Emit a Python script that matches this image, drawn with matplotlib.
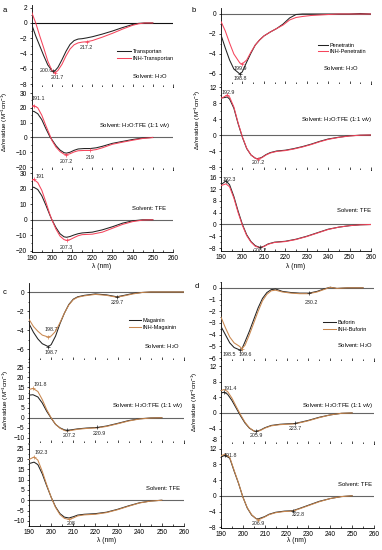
import matplotlib
matplotlib.use('Agg')
import matplotlib.pyplot as plt
from matplotlib.ticker import MultipleLocator

plt.rcParams['font.family'] = ['Liberation Sans', 'DejaVu Sans']
plt.rcParams['mathtext.fontset'] = 'custom'
plt.rcParams['mathtext.rm'] = 'Liberation Sans'
plt.rcParams['mathtext.it'] = 'Liberation Sans:italic'

# ---- data ----
# a: Transportan
wl_a1 = [190, 192, 194, 196, 198, 200, 200.6, 201.7, 203, 205, 207, 209, 211, 213, 215, 217.2, 220, 225, 230, 235, 240, 243, 246, 250]
a1_pep = [-0.2, -1.7, -3.0, -4.3, -5.5, -6.2, -6.3, -6.2, -5.8, -4.8, -3.7, -2.8, -2.3, -2.1, -2.05, -1.95, -1.8, -1.45, -1.05, -0.6, -0.2, -0.05, 0, 0]
a1_inh = [1.4, 0.0, -1.7, -3.3, -5.0, -6.2, -6.4, -6.5, -6.2, -5.4, -4.3, -3.4, -2.85, -2.6, -2.5, -2.45, -2.3, -1.85, -1.35, -0.8, -0.3, -0.1, 0, 0]

wl_a2 = [190, 191.1, 193, 195, 197, 199, 200, 202, 204, 206, 207.2, 209, 211, 213, 216, 219, 222, 225, 230, 235, 240, 245, 250]
a2_pep = [17.6, 17.6, 16.0, 12.0, 6.0, 0.5, -1.5, -5.5, -8.5, -10.3, -10.6, -10.0, -8.7, -7.8, -7.5, -7.5, -7.0, -6.0, -4.0, -2.7, -1.4, -0.4, 0]
a2_inh = [21.0, 21.5, 20.0, 15.0, 8.0, 1.5, -2.0, -6.5, -9.5, -11.3, -11.6, -11.0, -9.8, -9.0, -8.8, -8.8, -8.2, -7.0, -4.6, -3.2, -1.9, -0.7, -0.1]

wl_a3 = [190, 191, 193, 195, 197, 199, 200, 202, 204, 206, 207.3, 209, 211, 213, 215, 220, 225, 230, 235, 240, 245, 250]
a3_pep = [20.5, 21.0, 19.5, 15.5, 9.5, 3.0, 0, -5, -9, -11, -11.3, -10.8, -9.8, -9.0, -8.5, -8.0, -6.5, -4.5, -2.2, -0.7, 0, 0]
a3_inh = [25.4, 26.0, 24.0, 19.0, 11.5, 3.5, 0, -6, -10.5, -12.8, -13.3, -12.8, -11.5, -10.3, -9.6, -9.3, -8.0, -5.5, -3.0, -1.2, -0.2, 0]

# b: Penetratin
wl_b1 = [190, 192, 194, 196, 198.8, 199.9, 202, 204, 206, 208, 210, 213, 216, 219, 222, 225, 228, 232, 236, 240, 245, 250, 255, 260]
b1_pep = [-2.1, -3.4, -4.6, -5.5, -6.0, -5.8, -4.8, -3.9, -3.1, -2.6, -2.2, -1.8, -1.45, -1.0, -0.4, -0.05, 0, 0, 0, 0, 0, 0, 0.05, 0]
b1_inh = [-0.75, -1.7, -2.9, -4.0, -4.9, -5.0, -4.6, -3.8, -3.1, -2.6, -2.2, -1.8, -1.45, -1.1, -0.6, -0.35, -0.25, -0.15, -0.1, -0.05, 0, 0, 0, 0]

wl_b2 = [190, 191, 192.9, 194, 196, 198, 200, 202, 204, 206, 207.2, 209, 211, 213, 216, 220, 224, 228, 232, 236, 240, 245, 250, 255, 260]
b2_pep = [9.3, 9.3, 9.5, 9.0, 6.7, 2.8, -0.6, -3.4, -5.0, -5.8, -5.95, -5.6, -4.9, -4.4, -4.0, -3.8, -3.4, -2.9, -2.3, -1.6, -1.0, -0.55, -0.2, -0.05, 0]
b2_inh = [9.2, 9.4, 10.0, 9.5, 7.0, 3.0, -0.5, -3.3, -5.0, -5.8, -6.0, -5.7, -5.0, -4.5, -4.1, -3.9, -3.5, -3.0, -2.4, -1.7, -1.1, -0.6, -0.25, -0.05, 0]

wl_b3 = [190, 192.3, 194, 196, 198, 200, 202, 204, 206, 208.2, 210, 212, 215, 220, 225, 230, 235, 240, 245, 250, 255, 260]
b3_pep = [13.5, 14.8, 13.5, 9.5, 4.5, 0, -3.5, -5.8, -7.2, -7.8, -7.4, -6.6, -6.0, -5.7, -5.0, -4.0, -2.8, -1.6, -0.9, -0.4, -0.1, 0]
b3_inh = [13.2, 13.8, 12.8, 9.0, 4.0, -0.3, -3.8, -6.0, -7.4, -7.9, -7.5, -6.7, -6.1, -5.8, -5.1, -4.1, -2.9, -1.7, -0.9, -0.4, -0.1, 0]

# c: Magainin
wl_c1 = [190, 192, 194, 196, 198.7, 200, 202, 204, 206, 208, 210, 212, 215, 220, 225, 229.7, 233, 237, 241, 245, 250, 255, 260]
c1_pep = [-3.3, -4.2, -4.9, -5.4, -5.7, -5.5, -4.6, -3.3, -2.2, -1.3, -0.75, -0.5, -0.35, -0.2, -0.3, -0.5, -0.35, -0.15, -0.05, 0, 0, 0, 0]
c1_inh = [-2.85, -3.6, -4.1, -4.5, -4.7, -4.6, -4.1, -3.2, -2.2, -1.35, -0.8, -0.55, -0.4, -0.25, -0.35, -0.55, -0.4, -0.2, -0.05, 0, 0, 0, 0]

wl_c2 = [190, 191.8, 194, 196, 198, 200, 202, 204, 206, 207.2, 209, 212, 216, 220.9, 225, 230, 235, 240, 245, 250]
c2_pep = [11.2, 11.4, 10.3, 7.3, 3.2, -0.2, -3.3, -5.0, -6.0, -6.2, -6.0, -5.5, -5.1, -4.8, -4.1, -2.8, -1.4, -0.5, -0.1, 0]
c2_inh = [14.0, 14.5, 13.0, 9.0, 4.0, 0, -3.2, -5.2, -6.3, -6.6, -6.3, -5.7, -5.3, -5.0, -4.3, -3.0, -1.6, -0.6, -0.15, 0]

wl_c3 = [190, 192.3, 194, 196, 198, 200, 202, 204, 206, 208, 210, 212, 215, 220, 225, 230, 235, 240, 245, 250]
c3_pep = [17.8, 18.5, 17.3, 12.8, 7.0, 1.5, -3.2, -6.5, -8.2, -8.6, -8.0, -7.2, -6.8, -6.5, -5.8, -4.4, -2.7, -1.2, -0.35, 0]
c3_inh = [19.8, 21.0, 19.5, 14.0, 7.5, 1.5, -3.5, -7.0, -8.8, -9.3, -8.6, -7.6, -7.1, -6.8, -6.0, -4.6, -2.9, -1.3, -0.4, 0]

# d: Buforin
wl_d1 = [190, 192, 194, 196, 198.5, 199.6, 201, 203, 205, 207, 209, 211, 213, 215, 218, 222, 226, 230.2, 234, 237, 240, 243, 248, 255]
d1_pep = [-3.3, -4.0, -4.7, -5.1, -5.3, -5.2, -4.6, -3.7, -2.7, -1.7, -0.9, -0.4, -0.15, -0.1, -0.3, -0.4, -0.45, -0.45, -0.3, -0.1, 0.05, -0.05, 0, 0]
d1_inh = [-2.5, -3.4, -4.2, -4.7, -5.0, -5.2, -4.9, -4.0, -3.0, -2.0, -1.1, -0.55, -0.25, -0.2, -0.35, -0.45, -0.5, -0.5, -0.35, -0.15, 0.05, -0.05, 0, 0]

wl_d2 = [190, 191.4, 193, 195, 197, 199, 201, 203, 205, 205.9, 208, 210, 213, 217, 220, 223.7, 227, 230, 235, 240, 245, 250]
d2_pep = [5.1, 5.3, 4.8, 3.2, 1.2, -0.8, -2.6, -3.9, -4.6, -4.7, -4.4, -3.8, -3.2, -2.9, -2.8, -2.7, -2.3, -1.9, -1.1, -0.5, -0.1, 0]
d2_inh = [5.7, 6.0, 5.5, 3.8, 1.6, -0.5, -2.4, -3.8, -4.6, -4.8, -4.5, -3.9, -3.3, -3.0, -2.9, -2.8, -2.4, -2.0, -1.2, -0.5, -0.1, 0]

wl_d3 = [190, 191.8, 194, 196, 198, 200, 202, 204, 206, 206.9, 208, 210, 212, 215, 219, 222.8, 226, 230, 235, 240, 245, 250]
d3_pep = [9.9, 10.3, 9.6, 6.3, 3.2, -0.3, -3.1, -4.9, -5.8, -5.9, -5.7, -5.3, -4.7, -4.2, -3.9, -3.8, -3.2, -2.4, -1.4, -0.7, -0.2, 0]
d3_inh = [10.2, 10.6, 9.8, 6.5, 3.3, -0.3, -3.0, -4.8, -5.8, -6.1, -5.9, -5.4, -4.8, -4.3, -4.0, -3.9, -3.3, -2.5, -1.5, -0.7, -0.2, 0]

W, H = 382, 550
BLACK = '#222222'
RED = '#f5455c'
TAN = '#c8874f'

fig = plt.figure(figsize=(W / 100, H / 100), dpi=100)


def add_ax(l, r, t, b):
    return fig.add_axes([l / W, 1 - b / H, (r - l) / W, (b - t) / H])


def ftext(x, y, s, **kw):
    kw.setdefault('fontsize', 4.2)
    fig.text(x / W, 1 - y / H, s, **kw)


def cd_axes(l, r, t, b, ylim, ystep, bottom=False, zero_col='#666666'):
    ax = add_ax(l, r, t, b)
    ax.set_xlim(190, 260)
    ax.set_ylim(*ylim)
    for s in ['top', 'right']:
        ax.spines[s].set_visible(False)
    for s in ['left', 'bottom']:
        ax.spines[s].set_linewidth(0.6)
    ax.axhline(0, color=zero_col, lw=0.8, zorder=1)
    ax.xaxis.set_major_locator(MultipleLocator(10))
    ax.xaxis.set_minor_locator(MultipleLocator(5))
    ax.yaxis.set_major_locator(MultipleLocator(ystep))
    ax.yaxis.set_minor_locator(MultipleLocator(ystep / 2))
    ax.tick_params(axis='x', which='major', direction='in', length=2.2, width=0.5,
                   labelsize=4.8, pad=2)
    ax.tick_params(axis='x', which='minor', direction='in', length=1.2, width=0.5)
    ax.tick_params(axis='y', which='major', direction='out', length=1.8, width=0.5,
                   labelsize=4.8, pad=1.5)
    ax.tick_params(axis='y', which='minor', direction='out', length=1.0, width=0.5)
    if not bottom:
        ax.tick_params(axis='x', which='both', labelbottom=False)
    return ax


def curves(ax, wl, pep, inh, c_inh):
    l1, = ax.plot(wl, pep, color=BLACK, lw=0.75, zorder=3)
    l2, = ax.plot(wl, inh, color=c_inh, lw=0.75, zorder=4)
    return l1, l2


def mark(ax, wl, ys, x, label, dx, dy, color=BLACK):
    y = ys[wl.index(x)]
    ax.plot([x], [y], marker='+', ms=3, mew=0.5, color=color, zorder=5)
    ax.annotate(label, (x, y), xytext=(dx, -dy), textcoords='offset pixels',
                ha='center', va='center', fontsize=3.8, color='#222222')


def legend(ax, lines, labels, x, y, hl, ls):
    ax.legend(lines, labels, loc='upper left', bbox_to_anchor=(x / W, 1 - y / H),
              bbox_transform=fig.transFigure, frameon=False, fontsize=4,
              handlelength=hl, handletextpad=0.3, labelspacing=ls,
              borderpad=0, borderaxespad=0)


ylab = u'\u0394\u03b5/residue (M$^{-1}$cm$^{-1}$)'

# ---------- panel a ----------
ax = cd_axes(31.7, 173, 5, 86.5, (-8.3, 2.35), 2, zero_col='#111111')
lines = curves(ax, wl_a1, a1_pep, a1_inh, RED)
mark(ax, wl_a1, a1_pep, 200.6, '200.6', -7, -1)
mark(ax, wl_a1, a1_inh, 201.7, '201.7', 2, 5, RED)
mark(ax, wl_a1, a1_inh, 217.2, '217.2', 0, 6, RED)
legend(ax, lines, ['Transportan', 'INH-Transportan'], 117, 49, 2.5, 0.3)
ftext(168, 77, 'Solvent: H$_2$O', ha='right', va='center')

ax = cd_axes(31.7, 173, 86.5, 170, (-22, 34.4), 10)
curves(ax, wl_a2, a2_pep, a2_inh, RED)
mark(ax, wl_a2, a2_inh, 191.1, '191.1', 4, -7, RED)
mark(ax, wl_a2, a2_inh, 207.2, '207.2', 0, 7, RED)
mark(ax, wl_a2, a2_inh, 219, '219', 0, 7, RED)
ftext(170, 126, 'Solvent: H$_2$O:TFE (1:1 v/v)', ha='right', va='center')

ax = cd_axes(31.7, 173, 170, 252, (-20.8, 32.1), 10, bottom=True)
curves(ax, wl_a3, a3_pep, a3_inh, RED)
mark(ax, wl_a3, a3_inh, 191, '191', 6, -3, RED)
mark(ax, wl_a3, a3_inh, 207.3, '207.3', 0, 7, RED)
ftext(166, 208, 'Solvent: TFE', ha='right', va='center')
ftext(102, 267, u'\u03bb (nm)', ha='center', va='center', fontsize=4.8)
ftext(5, 122, ylab, ha='center', va='center', rotation=90, fontsize=4.5)
ftext(5, 10, 'a', ha='center', va='center', fontsize=5.5)

# ---------- panel b ----------
ax = cd_axes(221, 371, 8, 84, (-7.0, 0.6), 2)
lines = curves(ax, wl_b1, b1_pep, b1_inh, RED)
mark(ax, wl_b1, b1_inh, 199.9, '199.9', -2, 5, RED)
mark(ax, wl_b1, b1_pep, 198.8, '198.8', 0, 5)
legend(ax, lines, ['Penetratin', 'INH-Penetratin'], 318, 43, 1.8, 0.15)
ftext(359, 69, 'Solvent: H$_2$O', ha='right', va='center')

ax = cd_axes(221, 371, 84, 170, (-8.75, 12.75), 4)
curves(ax, wl_b2, b2_pep, b2_inh, RED)
mark(ax, wl_b2, b2_inh, 192.9, '192.9', 1, -3, RED)
mark(ax, wl_b2, b2_inh, 207.2, '207.2', 0, 4, RED)
ftext(372, 120, 'Solvent: H$_2$O:TFE (1:1 v/v)', ha='right', va='center')

ax = cd_axes(221, 371, 170, 251, (-9, 18.5), 4, bottom=True)
curves(ax, wl_b3, b3_pep, b3_inh, RED)
mark(ax, wl_b3, b3_pep, 192.3, '192.3', 3, -1)
mark(ax, wl_b3, b3_pep, 208.2, '208.2', 0, 3)
ftext(371, 211, 'Solvent: TFE', ha='right', va='center')
ftext(296, 267, u'\u03bb (nm)', ha='center', va='center', fontsize=4.8)
ftext(198, 120, ylab, ha='center', va='center', rotation=90, fontsize=4.5)
ftext(194, 10, 'b', ha='center', va='center', fontsize=5.5)

# ---------- panel c ----------
ax = cd_axes(29, 184, 283, 360, (-7.1, 0.94), 2)
lines = curves(ax, wl_c1, c1_pep, c1_inh, TAN)
mark(ax, wl_c1, c1_inh, 198.7, '198.7', 3, -8, TAN)
mark(ax, wl_c1, c1_pep, 198.7, '198.7', 3, 6)
mark(ax, wl_c1, c1_pep, 229.7, '229.7', 0, 6)
legend(ax, lines, ['Magainin', 'INH-Magainin'], 129, 318, 2.2, 0.3)
ftext(180, 347, 'Solvent: H$_2$O', ha='right', va='center')

ax = cd_axes(29, 184, 360, 443, (-12.5, 28.6), 5)
curves(ax, wl_c2, c2_pep, c2_inh, TAN)
mark(ax, wl_c2, c2_inh, 191.8, '191.8', 7, -4, TAN)
mark(ax, wl_c2, c2_pep, 207.2, '207.2', 2, 5)
mark(ax, wl_c2, c2_pep, 220.9, '220.9', 2, 6)
ftext(183, 406, 'Solvent: H$_2$O:TFE (1:1 v/v)', ha='right', va='center')

ax = cd_axes(29, 184, 443, 526, (-12.5, 27.8), 5, bottom=True)
curves(ax, wl_c3, c3_pep, c3_inh, TAN)
mark(ax, wl_c3, c3_inh, 192.3, '192.3', 7, -5, TAN)
mark(ax, wl_c3, c3_inh, 208, '208', 2, 4, TAN)
ftext(180, 489, 'Solvent: TFE', ha='right', va='center')
ftext(107, 541, u'\u03bb (nm)', ha='center', va='center', fontsize=4.8)
ftext(6, 400, ylab, ha='center', va='center', rotation=90, fontsize=4.5)
ftext(5, 293, 'c', ha='center', va='center', fontsize=5.5)

# ---------- panel d ----------
ax = cd_axes(221, 374, 282, 361, (-6.25, 0.5), 1)
lines = curves(ax, wl_d1, d1_pep, d1_inh, TAN)
mark(ax, wl_d1, d1_pep, 198.5, '198.5', -10, 5)
mark(ax, wl_d1, d1_inh, 199.6, '199.6', 3, 6, TAN)
mark(ax, wl_d1, d1_pep, 230.2, '230.2', 2, 9)
legend(ax, lines, ['Buforin', 'INH-Buforin'], 323, 320, 2.3, 0.3)
ftext(373, 346, 'Solvent: H$_2$O', ha='right', va='center')

ax = cd_axes(221, 374, 361, 444, (-7.95, 13.3), 4)
curves(ax, wl_d2, d2_pep, d2_inh, TAN)
mark(ax, wl_d2, d2_pep, 191.4, '191.4', 6, -4)
mark(ax, wl_d2, d2_pep, 205.9, '205.9', 1, 4)
mark(ax, wl_d2, d2_pep, 223.7, '223.7', 1, 5)
ftext(373, 406, 'Solvent: H$_2$O:TFE (1:1 v/v)', ha='right', va='center')
ax.text(-0.02, 0.0, '-8', transform=ax.transAxes, ha='right', va='bottom', fontsize=4.8)

ax = cd_axes(221, 374, 444, 528, (-8.2, 13.2), 4, bottom=True)
curves(ax, wl_d3, d3_pep, d3_inh, TAN)
mark(ax, wl_d3, d3_pep, 191.8, '191.8', 5, 0)
mark(ax, wl_d3, d3_inh, 206.9, '206.9', 0, 4, TAN)
mark(ax, wl_d3, d3_pep, 222.8, '222.8', 6, 4)
ftext(372, 485, 'Solvent: TFE', ha='right', va='center')
ftext(297, 541, u'\u03bb (nm)', ha='center', va='center', fontsize=4.8)
ftext(195, 402, ylab, ha='center', va='center', rotation=90, fontsize=4.5)
ftext(197, 286, 'd', ha='center', va='center', fontsize=5.5)

fig.savefig('out.png', dpi=100)
